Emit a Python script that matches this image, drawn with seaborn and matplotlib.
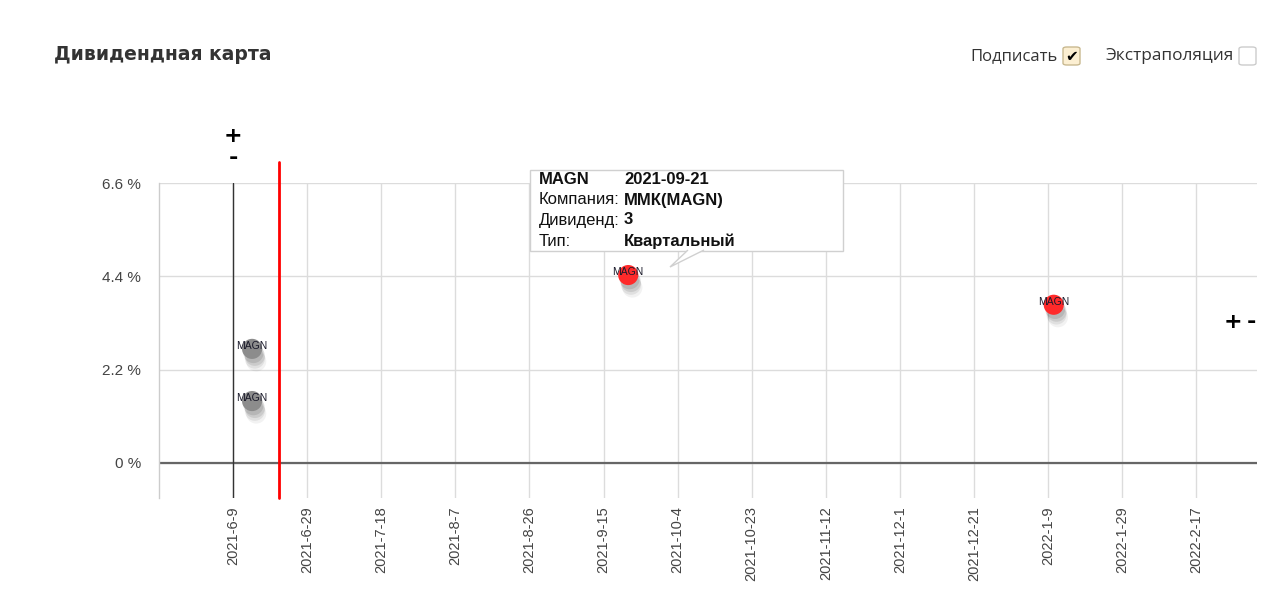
import numpy as np
import pandas as pd
import matplotlib.pyplot as plt
import matplotlib.dates as mdates
import matplotlib.patheffects as pe
from matplotlib.patches import Rectangle, FancyBboxPatch, Polygon
import seaborn as sns

sns.set_theme(style="white")
plt.rcParams['font.family'] = ['Liberation Sans', 'DejaVu Sans']

"""data"""
tickers = ['MAGN', 'MAGN', 'MAGN', 'MAGN']
pay_dates = ['2021-06-14', '2021-06-14', '2021-09-21', '2022-01-11']
yields = [2.69, 1.46, 4.43, 3.73]
status = ['past', 'past', 'future', 'future']

start_date = '2021-06-09'
today = '2021-06-21'
tick_labels = ['2021-6-9', '2021-6-29', '2021-7-18', '2021-8-7', '2021-8-26',
               '2021-9-15', '2021-10-4', '2021-10-23', '2021-11-12', '2021-12-1',
               '2021-12-21', '2022-1-9', '2022-1-29', '2022-2-17']
y_ticks = [0, 2.2, 4.4, 6.6]

tip_keys = ['MAGN', 'Компания:', 'Дивиденд:', 'Тип:']
tip_vals = ['2021-09-21', 'ММК(MAGN)', '3', 'Квартальный']

df = pd.DataFrame({'ticker': tickers, 'date': pd.to_datetime(pay_dates),
                   'yield': yields, 'status': status})

W, H = 1279, 595
def px(x, y):
    return x / W, 1 - y / H

fig = plt.figure(figsize=(12.79, 5.95), dpi=100)
ax = fig.add_axes([159 / W, 1 - 498 / H, (1257 - 159) / W, (498 - 183) / H])

start = pd.Timestamp(start_date)
step = 19.5
tick_pos = [start + pd.Timedelta(days=k * step) for k in range(len(tick_labels))]

ax.set_xlim(mdates.date2num(start - pd.Timedelta(days=19.5)),
            mdates.date2num(start + pd.Timedelta(days=269.5)))
ax.set_ylim(-0.825, 6.6)

ax.set_xticks(mdates.date2num(tick_pos))
ax.set_xticklabels(tick_labels, rotation=90, color='#444', fontsize=10.5)
ax.set_yticks(y_ticks)
ax.set_yticklabels(['{:g} %'.format(v) for v in y_ticks], color='#444', fontsize=11)
ax.tick_params(length=0)
ax.tick_params(axis='x', pad=6)
ax.tick_params(axis='y', pad=13)
ax.grid(True, color='#dcdcdc', lw=1)
ax.set_axisbelow(True)
for s in ['top', 'right', 'bottom']:
    ax.spines[s].set_visible(False)
ax.spines['left'].set_color('#cccccc')
ax.spines['left'].set_linewidth(1)

ax.axhline(0, color='#666666', lw=1.6, zorder=1)
ax.axvline(mdates.date2num(start), color='#333333', lw=1, zorder=1)
ax.axvline(mdates.date2num(pd.Timestamp(today)), ymin=0, ymax=(498 - 162) / (498 - 183),
           color='red', lw=2, clip_on=False, zorder=2)

sns.scatterplot(data=df, x='date', y='yield', hue='status',
                palette={'past': '#8c8c8c', 'future': '#ff2a2a'},
                s=210, linewidth=0, legend=False, ax=ax, zorder=3)
ax.collections[-1].set_path_effects([
    pe.SimplePatchShadow(offset=(3, -9), shadow_rgbFace='#000000', alpha=0.05),
    pe.SimplePatchShadow(offset=(2, -7), shadow_rgbFace='#000000', alpha=0.07),
    pe.SimplePatchShadow(offset=(2, -5), shadow_rgbFace='#000000', alpha=0.09),
    pe.SimplePatchShadow(offset=(1, -3), shadow_rgbFace='#000000', alpha=0.1),
    pe.Normal()])
ax.set_xlabel('')
ax.set_ylabel('')

for t, d, v in zip(df['ticker'], df['date'], df['yield']):
    ax.annotate(t, (mdates.date2num(d), v), xytext=(0, 2), textcoords='offset points',
                ha='center', va='center', fontsize=7.5, color='#1a1a2a', zorder=5)

# tooltip
fig.patches.append(Rectangle(px(530, 251), 313 / W, 81 / H, transform=fig.transFigure,
                             facecolor='white', edgecolor='#d0d0d0', lw=1, zorder=10))
fig.patches.append(Polygon([px(688, 250), px(670, 267), px(704, 250)], closed=False,
                           transform=fig.transFigure, facecolor='white',
                           edgecolor='#d0d0d0', lw=1, zorder=10))
rows_y = [180, 200, 220, 241]
for i, (k, v) in enumerate(zip(tip_keys, tip_vals)):
    fig.text(*px(539, rows_y[i]), k, fontsize=12, va='center', color='#111',
             fontweight='bold' if i == 0 else 'normal', zorder=11)
    fig.text(*px(624, rows_y[i]), v, fontsize=12, va='center', color='#111',
             fontweight='bold', zorder=11)

# +/- controls
for (x, y), sym in zip([(233, 136), (233, 158), (1233, 322), (1251, 322)],
                       ['+', '-', '+', '-']):
    fig.text(*px(x, y), sym, fontsize=16, fontweight='bold', ha='center', va='center',
             color='black', family=['DejaVu Sans'])

# title and checkboxes
fig.text(*px(54, 55), 'Дивидендная карта', fontsize=13.5, fontweight='bold',
         color='#333333', va='center', family=['DejaVu Sans'])
fig.text(*px(1058, 56), 'Подписать', fontsize=12, color='#333333', ha='right',
         va='center', family=['Open Sans', 'DejaVu Sans'])
fig.patches.append(FancyBboxPatch(px(1063, 65), 17 / W, 18 / H,
                                  boxstyle='round,pad=0,rounding_size=0.003',
                                  transform=fig.transFigure, facecolor='#fcefd2',
                                  edgecolor='#c9b990', lw=1))
fig.text(*px(1071.5, 57), '✔', fontsize=11, ha='center', va='center', color='black',
         family=['DejaVu Sans'])
fig.text(*px(1234, 56), 'Экстраполяция', fontsize=12.4, color='#333333', ha='right',
         va='center', family=['Open Sans', 'DejaVu Sans'])
fig.patches.append(FancyBboxPatch(px(1239, 65), 17 / W, 18 / H,
                                  boxstyle='round,pad=0,rounding_size=0.003',
                                  transform=fig.transFigure, facecolor='white',
                                  edgecolor='#cccccc', lw=1))

fig.savefig('out.png', dpi=100)
